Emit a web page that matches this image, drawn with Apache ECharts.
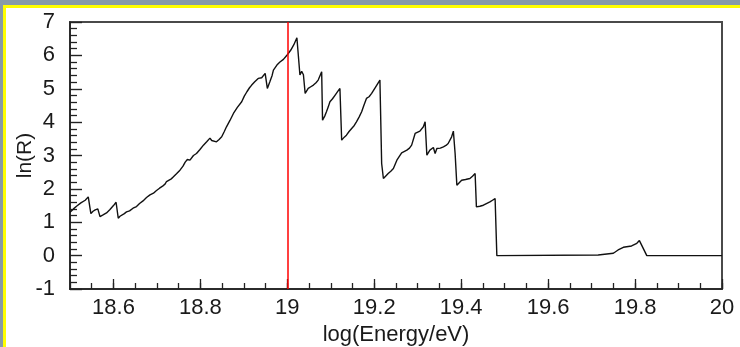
<!DOCTYPE html>
<html>
<head>
<meta charset="utf-8">
<script src="https://cdn.jsdelivr.net/npm/echarts@6/dist/echarts.min.js"></script>
<style>
html,body{margin:0;padding:0;width:740px;height:347px;overflow:hidden;}
.l{position:absolute;}
</style>
</head>
<body>
<div class="l" style="left:0;top:0;width:740px;height:347px;background:#879ba8"></div>
<div class="l" style="left:3px;top:5px;width:737px;height:342px;background:#ffff00"></div>
<div class="l" style="left:6px;top:8px;width:734px;height:339px;background:#ffffff"></div>
<div id="chart" class="l" style="left:0;top:0;width:740px;height:347px"></div>
<script>
// log(Energy/eV)
const logE = [
  18.500,18.508,18.515,18.525,18.535,18.542,18.548,18.553,18.558,18.564,18.567,18.569,18.576,18.584,18.592,18.600,18.606,
  18.611,18.615,18.619,18.625,18.630,18.637,18.645,18.653,18.660,18.668,18.676,18.684,18.692,18.699,18.706,18.713,18.719,
  18.722,18.726,18.733,18.738,18.745,18.753,18.760,18.765,18.770,18.776,18.784,18.791,18.799,18.807,18.815,18.822,18.826,
  18.830,18.837,18.843,18.849,18.855,18.860,18.868,18.876,18.885,18.895,18.901,18.907,18.913,18.918,18.925,18.933,18.937,
  18.941,18.945,18.949,18.954,18.960,18.965,18.968,18.976,18.983,18.991,19.000,19.008,19.015,19.022,19.029,19.033,19.037,
  19.041,19.048,19.054,19.060,19.066,19.071,19.079,19.081,19.086,19.090,19.094,19.098,19.104,19.110,19.116,19.121,19.125,
  19.131,19.136,19.142,19.148,19.154,19.159,19.165,19.171,19.176,19.182,19.188,19.194,19.203,19.213,19.217,19.221,19.226,
  19.232,19.238,19.244,19.252,19.258,19.263,19.275,19.281,19.286,19.294,19.305,19.313,19.317,19.321,19.328,19.336,19.340,
  19.344,19.352,19.359,19.365,19.370,19.378,19.382,19.386,19.390,19.401,19.410,19.420,19.426,19.432,19.435,19.443,19.451,
  19.458,19.466,19.472,19.478,19.482,19.715,19.750,19.761,19.773,19.792,19.804,19.810,19.827,20.000
];
// ln(R)
const lnR = [
  1.30,1.40,1.48,1.58,1.66,1.76,1.26,1.33,1.37,1.40,1.41,1.17,1.22,1.28,1.38,1.50,1.60,
  1.12,1.18,1.17,1.26,1.31,1.34,1.42,1.47,1.56,1.64,1.74,1.82,1.87,1.95,2.02,2.08,2.15,
  2.22,2.20,2.30,2.36,2.45,2.56,2.68,2.80,2.88,2.86,3.00,3.06,3.18,3.31,3.42,3.52,3.45,
  3.48,3.41,3.48,3.56,3.72,3.86,4.05,4.26,4.44,4.61,4.78,4.91,5.03,5.11,5.21,5.31,5.27,
  5.33,5.38,5.46,5.01,5.22,5.40,5.56,5.71,5.80,5.88,6.02,6.16,6.32,6.53,5.41,5.52,5.42,
  4.86,5.01,5.06,5.11,5.18,5.26,5.51,4.06,4.18,4.31,4.45,4.61,4.70,4.81,4.92,5.01,3.46,
  3.55,3.61,3.72,3.81,3.90,4.01,4.15,4.31,4.50,4.71,4.76,4.86,5.05,5.26,2.76,2.31,2.38,
  2.46,2.53,2.61,2.86,2.98,3.08,3.16,3.22,3.31,3.66,3.73,3.86,4.01,3.01,3.16,3.24,3.06,
  3.21,3.22,3.26,3.30,3.36,3.56,3.73,3.06,2.11,2.26,2.28,2.31,2.38,2.46,1.46,1.48,1.51,
  1.56,1.61,1.66,1.71,0.00,0.02,0.07,0.17,0.25,0.29,0.37,0.45,0.00,0.00
];
const xLabelValues = [18.6, 18.8, 19, 19.2, 19.4, 19.6, 19.8, 20];
const markerX = 19;
const xTitle = 'log(Energy/eV)';
const yTitle = 'ln(R)';

const FONT = 'Liberation Sans';
const TXT = '#1a1a1a';
const chart = echarts.init(document.getElementById('chart'), null, {renderer: 'canvas'});
chart.setOption({
  backgroundColor: 'transparent',
  animation: false,
  grid: {left: 70, top: 22, right: 18, bottom: 58, containLabel: false, outerBoundsMode: 'none',
    show: true, borderColor: '#4a4a4a', borderWidth: 2, backgroundColor: 'transparent'},
  xAxis: [{
    type: 'value', min: 18.5, max: 20, interval: 0.05,
    axisLine: {onZero: false, lineStyle: {color: '#222', width: 1.5}},
    axisTick: {show: true, inside: true, length: 6, lineStyle: {color: '#222', width: 1.3}},
    axisLabel: {show: false},
    splitLine: {show: false}
  }, {
    type: 'value', min: 18.5, max: 20, position: 'bottom',
    axisLine: {show: false, onZero: false},
    axisTick: {show: true, inside: true, length: 10, customValues: xLabelValues, lineStyle: {color: '#222', width: 1.3}},
    axisLabel: {customValues: xLabelValues, fontFamily: FONT, fontSize: 22, color: TXT, margin: 8,
      formatter: v => String(Math.round(v * 10) / 10)},
    splitLine: {show: false},
    name: xTitle, nameLocation: 'middle', nameGap: 23,
    nameTextStyle: {fontFamily: FONT, fontSize: 22, color: TXT, verticalAlign: 'top'}
  }],
  yAxis: {
    type: 'value', min: -1, max: 7, interval: 1,
    axisLine: {show: true, onZero: false, lineStyle: {color: '#222', width: 1.5}},
    axisTick: {show: true, inside: true, length: 12, lineStyle: {color: '#222', width: 1.4}},
    minorTick: {show: true, splitNumber: 5, length: 7, lineStyle: {color: '#222', width: 1.3}},
    axisLabel: {fontFamily: FONT, fontSize: 22, color: TXT, margin: 15, padding: [18, 0, 0, 0]},
    splitLine: {show: false},
    name: yTitle, nameLocation: 'middle', nameGap: 34, nameMoveOverlap: false,
    nameTextStyle: {fontFamily: FONT, fontSize: 21, color: TXT}
  },
  series: [{
    type: 'line',
    xAxisIndex: 0,
    data: logE.map((x, i) => [x, lnR[i]]),
    showSymbol: false,
    symbol: 'none',
    lineStyle: {color: '#111', width: 1.4},
    markLine: {
      silent: true, symbol: 'none', label: {show: false}, z: 10,
      lineStyle: {color: '#ff0000', width: 1.5, type: 'solid', opacity: 1},
      emphasis: {disabled: true},
      data: [{xAxis: markerX, lineStyle: {color: '#ff0000'}}]
    }
  }]
});
</script>
</body>
</html>
